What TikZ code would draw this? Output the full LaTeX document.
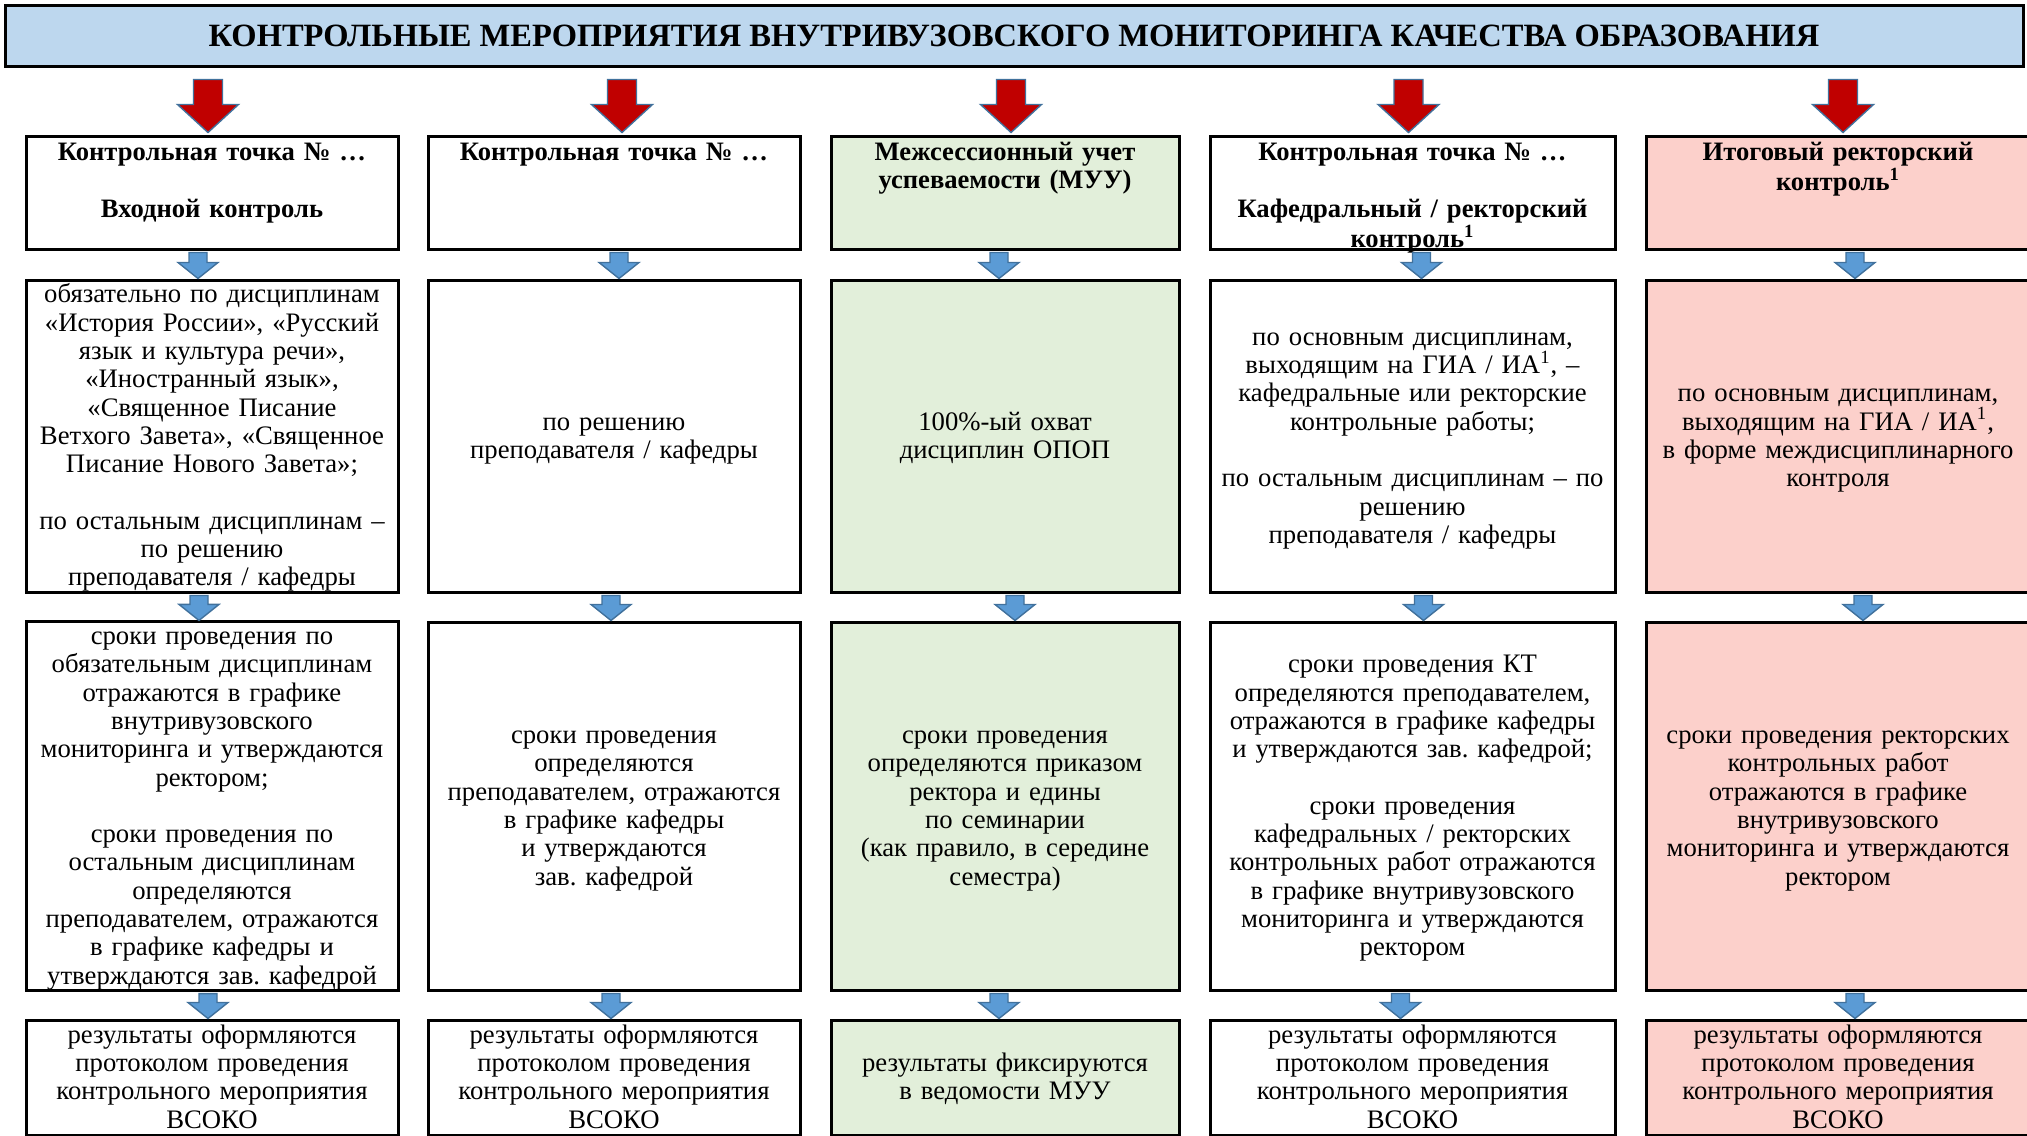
\documentclass[tikz,border=0pt]{standalone}
\usepackage{fontspec}
\setmainfont{Liberation Serif}
\frenchspacing
\definecolor{TitleBlue}{RGB}{189,215,238}
\definecolor{MuuGreen}{RGB}{226,239,218}
\definecolor{RectorPink}{RGB}{252,208,203}
\definecolor{ArrowRed}{RGB}{192,0,0}
\definecolor{ArrowBlue}{RGB}{91,155,213}
\definecolor{ArrowEdge}{RGB}{65,113,156}
\usepackage{tikz}
\usetikzlibrary{positioning,calc,backgrounds}
\newcommand{\topstrut}{\rule{0pt}{11.3pt}}
\newcommand{\botstrut}{\rule[-3pt]{0pt}{3pt}}
\tikzset{
  frame/.style={draw=black, line width=1.5pt, align=center, inner xsep=3pt, inner ysep=0pt},
  box/.style={frame, font=\fontsize{13.35}{14.15}\selectfont,
    execute at begin node=\topstrut, execute at end node=\botstrut},
  headbox/.style={frame, font=\bfseries\fontsize{13.3}{14.15}\selectfont,
    inner ysep=1.5pt, text height=10.75pt, text depth=42.75pt},
  titlebox/.style={draw=black, line width=1.5pt, fill=TitleBlue, minimum width=1009pt,
    minimum height=30.5pt, font=\bfseries\fontsize{16.25}{18}\selectfont},
  col1/.style={minimum width=186pt, text width=178pt},
  col2/.style={minimum width=186pt, text width=178pt},
  col3/.style={minimum width=174pt, text width=166pt, fill=MuuGreen},
  col4/.style={minimum width=202.5pt, text width=194.5pt},
  col5/.style={minimum width=192pt, text width=184pt, fill=RectorPink},
  row1/.style={minimum height=56.5pt},
  row2/.style={minimum height=156pt},
  row3/.style={minimum height=184pt},
  row4/.style={minimum height=57.5pt},
  redarrow/.style={fill=ArrowRed, draw=ArrowEdge, line width=0.7pt, line join=miter},
  bluearrow/.style={fill=ArrowBlue, draw=ArrowEdge, line width=0.7pt, line join=miter}
}
% block arrow: style, from, to, half shaft, half head, head length
\newcommand{\blockarrow}[6]{%
  \draw[#1] let \p1=(#2), \p2=(#3) in
    (\x2-#4,\y1) -- (\x2+#4,\y1) -- (\x2+#4,\y2+#6) -- (\x2+#5,\y2+#6) -- (\x2,\y2)
    -- (\x2-#5,\y2+#6) -- (\x2-#4,\y2+#6) -- cycle;}

\begin{document}
\begin{tikzpicture}[x=0.5pt,y=-0.5pt]
  \useasboundingbox (0,0) rectangle (2027,1135);
  \node[titlebox] at (1014,35.5) (title) {КОНТРОЛЬНЫЕ МЕРОПРИЯТИЯ ВНУТРИВУЗОВСКОГО МОНИТОРИНГА КАЧЕСТВА ОБРАЗОВАНИЯ};

  % row 1: kinds of control
  \node[headbox,col1,row1] at (212,192.5) (head1) {Контрольная точка № …\\[14.15pt]Входной контроль};
  \node[headbox,col2,row1] at (614,192.5) (head2) {Контрольная точка № …};
  \node[headbox,col3,row1] at (1005,192.5) (head3) {Межсессионный учет\\успеваемости (МУУ)};
  \node[headbox,col4,row1] at (1412.5,192.5) (head4) {Контрольная точка № …\\[14.15pt]Кафедральный / ректорский\\контроль\textsuperscript{1}};
  \node[headbox,col5,row1] at (1838,192.5) (head5) {Итоговый ректорский\\контроль\textsuperscript{1}};

  % row 2: which disciplines
  \node[box,col1,row2] at (212,436) (scope1) {обязательно по дисциплинам\\«История России», «Русский\\язык и культура речи»,\\«Иностранный язык»,\\«Священное Писание\\Ветхого Завета», «Священное\\Писание Нового Завета»;\\[14.15pt]по остальным дисциплинам –\\по решению\\преподавателя / кафедры};
  \node[box,col2,row2] at (614,436) (scope2) {по решению\\преподавателя / кафедры};
  \node[box,col3,row2] at (1005,436) (scope3) {100\%-ый охват\\дисциплин ОПОП};
  \node[box,col4,row2] at (1412.5,436) (scope4) {по основным дисциплинам,\\выходящим на ГИА / ИА\textsuperscript{1}, –\\кафедральные или ректорские\\контрольные работы;\\[14.15pt]по остальным дисциплинам – по\\решению\\преподавателя / кафедры};
  \node[box,col5,row2] at (1838,436) (scope5) {по основным дисциплинам,\\выходящим на ГИА / ИА\textsuperscript{1},\\в форме междисциплинарного\\контроля};

  % row 3: terms
  \node[box,col1,row3] at (212,806) (term1) {сроки проведения по\\обязательным дисциплинам\\отражаются в графике\\внутривузовского\\мониторинга и утверждаются\\ректором;\\[14.15pt]сроки проведения по\\остальным дисциплинам\\определяются\\преподавателем, отражаются\\в графике кафедры и\\утверждаются зав. кафедрой};
  \node[box,col2,row3] at (614,806) (term2) {сроки проведения\\определяются\\преподавателем, отражаются\\в графике кафедры\\и утверждаются\\зав. кафедрой};
  \node[box,col3,row3] at (1005,806) (term3) {сроки проведения\\определяются приказом\\ректора и едины\\по семинарии\\(как правило, в середине\\семестра)};
  \node[box,col4,row3] at (1412.5,806) (term4) {сроки проведения КТ\\определяются преподавателем,\\отражаются в графике кафедры\\и утверждаются зав. кафедрой;\\[14.15pt]сроки проведения\\кафедральных / ректорских\\контрольных работ отражаются\\в графике внутривузовского\\мониторинга и утверждаются\\ректором};
  \node[box,col5,row3] at (1838,806) (term5) {сроки проведения ректорских\\контрольных работ\\отражаются в графике\\внутривузовского\\мониторинга и утверждаются\\ректором};

  % row 4: results
  \node[box,col1,row4] at (212,1077.5) (res1) {результаты оформляются\\протоколом проведения\\контрольного мероприятия\\ВСОКО};
  \node[box,col2,row4] at (614,1077.5) (res2) {результаты оформляются\\протоколом проведения\\контрольного мероприятия\\ВСОКО};
  \node[box,col3,row4] at (1005,1077.5) (res3) {результаты фиксируются\\в ведомости МУУ};
  \node[box,col4,row4] at (1412.5,1077.5) (res4) {результаты оформляются\\протоколом проведения\\контрольного мероприятия\\ВСОКО};
  \node[box,col5,row4] at (1838,1077.5) (res5) {результаты оформляются\\протоколом проведения\\контрольного мероприятия\\ВСОКО};

  % arrows
  \foreach \k/\dx in {1/-4,2/8,3/6,4/-4,5/5}
    \blockarrow{redarrow}{$(title.south)+(\dx,12)$}{$(head\k.north)+(\dx,-2)$}{7.25pt}{15.25pt}{14pt};
  \foreach \a/\b/\dx in {head1/scope1/-14,head2/scope2/5,head3/scope3/-6,head4/scope4/9,head5/scope5/17,
      scope1/term1/-13,scope2/term2/-3,scope3/term3/10,scope4/term4/11,scope5/term5/25,
      term1/res1/-4,term2/res2/-3,term3/res3/-6,term4/res4/-12,term5/res5/17}
    \blockarrow{bluearrow}{$(\a.south)+(\dx,2)$}{$(\b.north)+(\dx,0)$}{4.5pt}{10pt}{8pt};
\end{tikzpicture}
\end{document}
